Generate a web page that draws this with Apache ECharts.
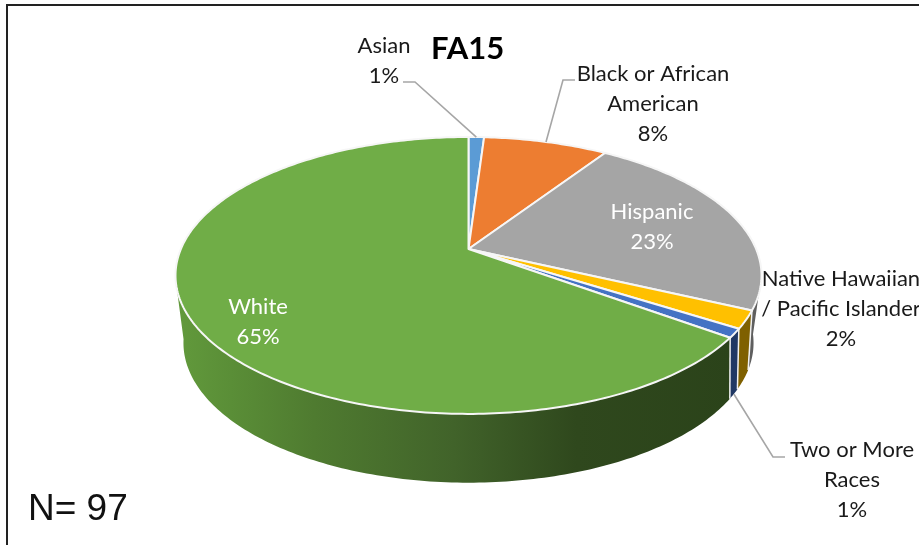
<!DOCTYPE html>
<html><head><meta charset="utf-8">
<style>html,body{margin:0;padding:0;background:#fff}#c{width:919px;height:545px}</style>
<script src="https://cdn.jsdelivr.net/npm/echarts@6/dist/echarts.min.js"></script>
</head><body><div id="c"></div>
<script>
const categories = ['Asian','Black or African\nAmerican','Hispanic','Native Hawaiian\n/ Pacific Islander','Two or More\nRaces','White'];
const counts = [1,8,22,2,1,63];
const topColors = ['#5B9BD5','#ED7D31','#A5A5A5','#FFC000','#4472C4','#70AD47'];
const wallColors = ['#2F5F8A','#A0521C','#5f5f5f','#7F6000','#203864',null];
const labelColors = ['#1a1a1a','#1a1a1a','#ffffff','#1a1a1a','#1a1a1a','#ffffff'];
const labelAnchors = [[384,61],[653,104],[652,227],[841,309],[852,480],[258,322]];
const leaderElbows = [[[403,82],[415,82]],[[575,80],[563,80]],null,null,[[785,457],[773,457]],null];
const leaderOnBottomRim = [false,false,false,false,true,false];

const total = counts.reduce((a,b)=>a+b,0);
const cum = []; counts.reduce((a,b,i)=>{cum[i]=[a,a+b];return a+b;},0);
const rad = c => c/total*Math.PI*2;
const TOP = {x0:468.5,y0:249,A:287.6,B:133.4,k:0.191};
const BOT = {x0:468.5,y0:308,A:276,B:131,k:0.25};
const proj = (P,t) => { const u=Math.sin(t), v=-Math.cos(t), w=1-P.k*v; return [P.x0+P.A*u/w, P.y0+P.B*v/w]; };
const arc = (P,a,b) => { const n=Math.max(2,Math.ceil(Math.abs(b-a)/0.015)), out=[]; for(let i=0;i<=n;i++) out.push(proj(P,a+(b-a)*i/n)); return out; };
const RIGHT_LIMIT = 101*Math.PI/180, LEFT_LIMIT = 257*Math.PI/180;
const greenWall = new echarts.graphic.LinearGradient(175,0,732,0,[
  {offset:0,color:'#629a3c'},{offset:0.1,color:'#5a8e37'},{offset:0.25,color:'#4f7b30'},
  {offset:0.5,color:'#41632a'},{offset:0.72,color:'#2f481d'},{offset:1,color:'#2b431a'}],true);

const rows = counts.map((v,i)=>[i,v]);

function wallItem(params){
  const i = params.dataIndex;
  let a = rad(cum[i][0]), b = rad(cum[i][1]);
  a = Math.max(a,RIGHT_LIMIT); b = Math.min(b,LEFT_LIMIT);
  if (b<=a) return {type:'group',children:[]};
  const t = arc(TOP,a,b), d = arc(BOT,a,b).reverse();
  const kids = [{type:'polygon',shape:{points:t.concat(d)},
    style:{fill:wallColors[i]||greenWall,stroke:null}}];
  const sep = (th,w)=>({type:'line',shape:{x1:proj(TOP,th)[0],y1:proj(TOP,th)[1],x2:proj(BOT,th)[0],y2:proj(BOT,th)[1]},
    style:{stroke:'#f2f2f2',lineWidth:w},z2:5});
  if (i>=3 && i<=4) kids.push(sep(rad(cum[i][0]),1.5));
  if (i===4) kids.push(sep(rad(cum[i][1]),1.5));
  return {type:'group',children:kids};
}
function topItem(params){
  const i = params.dataIndex;
  const pts = [[TOP.x0,TOP.y0]].concat(arc(TOP,rad(cum[i][0]),rad(cum[i][1])));
  return {type:'polygon',shape:{points:pts},
    style:{fill:topColors[i],stroke:'#f6f6f6',lineWidth:2,lineJoin:'round'}};
}
function labelItem(params){
  const i = params.dataIndex, kids=[];
  const pct = Math.round(counts[i]/total*100)+'%';
  const mid = rad((cum[i][0]+cum[i][1])/2);
  if (leaderElbows[i]) {
    const end = proj(leaderOnBottomRim[i]?BOT:TOP,mid);
    kids.push({type:'polyline',shape:{points:leaderElbows[i].concat([end])},
      style:{stroke:'#a6a6a6',lineWidth:1.6,fill:null}});
  }
  const lines = categories[i].split('\n').concat([pct]);
  const [cx,cy] = labelAnchors[i];
  const start = cy-(lines.length-1)*15;
  lines.forEach((s,j)=>kids.push({type:'text',style:{text:s,x:cx,y:start+j*30,align:'center',verticalAlign:'middle',
    font:'22px Lato',fill:labelColors[i]}}));
  return {type:'group',children:kids};
}
const chart = echarts.init(document.getElementById('c'),null,{renderer:'canvas'});
chart.setOption({
  animation:false,
  backgroundColor:'#fff',
  graphic:[{type:'rect',z:-1,shape:{x:7,y:5,width:930,height:560},style:{fill:null,stroke:'#222',lineWidth:2}}],
  title:[
    {text:'FA15',left:431,top:33,padding:0,textStyle:{fontFamily:'Lato',fontWeight:'bold',fontSize:31,color:'#000'}},
    {text:'N= 97',left:28,top:491,padding:0,textStyle:{fontFamily:'Liberation Sans',fontWeight:'normal',fontSize:37,color:'#111'}}
  ],
  series:[
    {type:'custom',coordinateSystem:'none',renderItem:wallItem,data:rows,z:1,silent:true},
    {type:'custom',coordinateSystem:'none',renderItem:topItem,data:rows,z:2,silent:true},
    {type:'custom',coordinateSystem:'none',renderItem:labelItem,data:rows,z:3,silent:true}
  ]
});
</script></body></html>
